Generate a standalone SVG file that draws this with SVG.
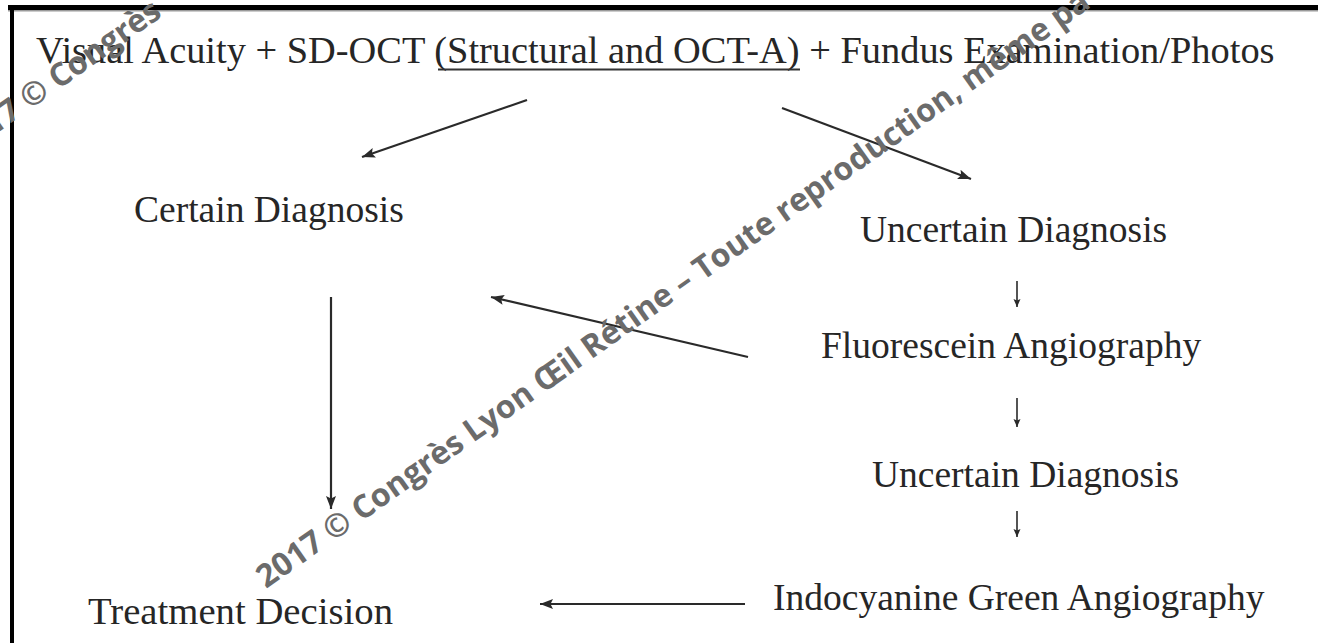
<svg xmlns="http://www.w3.org/2000/svg" width="1318" height="643" viewBox="0 0 1318 643">
  <style>
    .t { font-family: "Liberation Serif", "Times New Roman", serif; font-size: 37.5px; fill: #262626; }
    .ttl { font-size: 38.4px; }
    .ln { stroke: #2a2a2a; stroke-width: 2.2; fill: none; }
    .sm { stroke: #2a2a2a; stroke-width: 1.6; fill: none; }
    .wm { font-family: "Open Sans", "Liberation Sans", sans-serif; font-weight: 700; font-size: 32px; fill: #6b6b6b; }
  </style>
  <defs>
    <marker id="ah" markerUnits="userSpaceOnUse" markerWidth="16" markerHeight="12" refX="13" refY="5" orient="auto">
      <path d="M0,0 L13,5 L0,10 L2.5,5 Z" fill="#2a2a2a"/>
    </marker>
    <marker id="ahs" markerUnits="userSpaceOnUse" markerWidth="10" markerHeight="10" refX="8" refY="3.5" orient="auto">
      <path d="M0,0 L8,3.5 L0,7 L1.5,3.5 Z" fill="#2a2a2a"/>
    </marker>
  </defs>
  <rect width="1318" height="643" fill="#fff"/>
  <g id="frame">
    <rect x="8" y="5" width="1310" height="5" fill="#000"/>
    <rect x="8" y="10" width="1310" height="1.5" fill="#9a9a9a"/>
    <rect x="10" y="5" width="4" height="638" fill="#000"/>
  </g>
  <g id="connectors">
    <line class="ln" x1="527" y1="100" x2="362" y2="157" marker-end="url(#ah)"/>
    <line class="ln" x1="782" y1="108" x2="971" y2="179" marker-end="url(#ah)"/>
    <line class="ln" x1="331" y1="297" x2="331" y2="509" marker-end="url(#ah)"/>
    <line class="ln" x1="748" y1="357" x2="491" y2="297" marker-end="url(#ah)"/>
    <line class="ln" x1="745" y1="604" x2="540" y2="604" marker-end="url(#ah)"/>
    <line class="sm" x1="1017" y1="281" x2="1017" y2="307" marker-end="url(#ahs)"/>
    <line class="sm" x1="1017" y1="398" x2="1017" y2="427" marker-end="url(#ahs)"/>
    <line class="sm" x1="1017" y1="511" x2="1017" y2="537" marker-end="url(#ahs)"/>
  </g>
  <g id="node-exam">
    <text class="t ttl" x="36" y="63">Visual Acuity + SD-OCT (Structural and OCT-A) + Fundus Examination/Photos</text>
    <line x1="438" y1="69.5" x2="800" y2="69.5" stroke="#333" stroke-width="1.8"/>
  </g>
  <g id="node-certain">
    <text class="t" x="134" y="222">Certain Diagnosis</text>
  </g>
  <g id="node-uncertain1">
    <text class="t" x="860" y="242">Uncertain Diagnosis</text>
  </g>
  <g id="node-fluorescein">
    <text class="t" x="821" y="358">Fluorescein Angiography</text>
  </g>
  <g id="node-uncertain2">
    <text class="t" x="872" y="487">Uncertain Diagnosis</text>
  </g>
  <g id="node-icg">
    <text class="t" x="773" y="610">Indocyanine Green Angiography</text>
  </g>
  <g id="node-treatment">
    <text class="t" x="88" y="624" textLength="305" lengthAdjust="spacingAndGlyphs">Treatment Decision</text>
  </g>
  <g id="watermark">
    <text class="wm" transform="translate(266,589) rotate(-35.2)">2017 © Congrès Lyon Œil Rétine – Toute reproduction, même pa</text>
    <text class="wm" transform="translate(-37,157) rotate(-35.2)">2017 © Congrès</text>
  </g>
</svg>
